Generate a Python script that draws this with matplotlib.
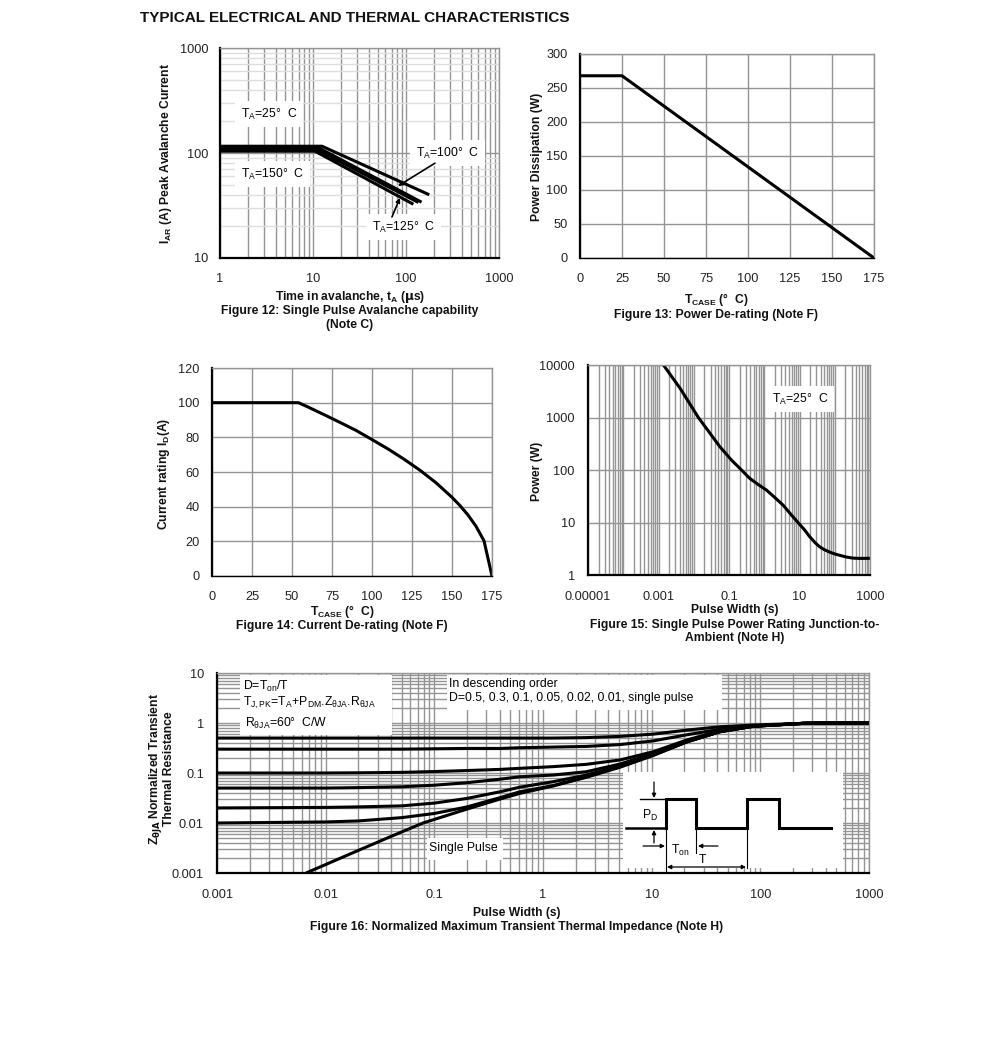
import matplotlib
matplotlib.use("Agg")
import matplotlib.pyplot as plt
from matplotlib.ticker import LogLocator, NullFormatter

plt.rcParams['font.family'] = ['Liberation Sans', 'DejaVu Sans']
plt.rcParams['mathtext.default'] = 'regular'
plt.rcParams['font.size'] = 9

W, H = 991, 1040

# Figure 12 data
av_t25 = [1, 12.5, 178]
av_i25 = [116, 116, 40]
av_t100 = [1, 11.5, 147]
av_i100 = [112, 112, 34]
av_t125 = [1, 11, 136]
av_i125 = [108, 108, 33.8]
av_t150 = [1, 10.5, 120]
av_i150 = [104, 104, 32.5]

# Figure 13 data
pd_case = [0, 25, 175]
pd_watts = [268, 268, 0]

# Figure 14 data
id_case = [0, 54, 60, 70, 80, 90, 100, 110, 120, 130, 140, 150, 155, 160, 165, 170, 175]
id_amps = [100, 100, 97.5, 93.1, 88.6, 84, 78.7, 73.3, 67.4, 61, 53.8, 45.4, 40.6, 35.2, 28.7, 20.3, 0]

# Figure 15 data
sp_width = [0.00138, 0.00237, 0.0041, 0.0078, 0.0135, 0.029, 0.055, 0.117, 0.226, 0.39, 0.67, 1.15,
            1.98, 3.4, 5.9, 9.05, 14, 19.3, 28, 37, 50, 71, 100, 136, 200, 320, 500, 1000]
sp_power = [10000, 6000, 3600, 1807, 1000, 499, 278, 155, 100, 69, 53, 41.6,
            30, 21.5, 13.9, 10, 7.2, 5.4, 4.1, 3.46, 3.05, 2.74, 2.52, 2.38, 2.22, 2.1, 2.07, 2.08]

# Figure 16 data
z_width = [0.001, 0.01, 0.02, 0.05, 0.1, 0.2, 0.4, 0.61, 1.24, 2.5, 5.1, 10.4, 21, 42.6, 86, 250, 400, 1000]
z_d50 = [0.5, 0.5, 0.5, 0.5, 0.5, 0.5, 0.5, 0.5, 0.5, 0.51, 0.54, 0.6, 0.72, 0.84, 0.91, 0.985, 1, 1]
z_d30 = [0.3, 0.3, 0.3, 0.3, 0.305, 0.31, 0.31, 0.32, 0.33, 0.34, 0.37, 0.44, 0.58, 0.75, 0.87, 0.985, 1, 1]
z_d10 = [0.1, 0.1, 0.101, 0.103, 0.107, 0.112, 0.118, 0.124, 0.134, 0.149, 0.182, 0.267, 0.457, 0.70, 0.87, 0.985, 1, 1]
z_d05 = [0.05, 0.05, 0.051, 0.053, 0.057, 0.064, 0.075, 0.084, 0.091, 0.106, 0.151, 0.247, 0.436, 0.68, 0.86, 0.985, 1, 1]
z_d02 = [0.02, 0.0205, 0.021, 0.022, 0.025, 0.031, 0.042, 0.052, 0.067, 0.091, 0.138, 0.236, 0.42, 0.67, 0.86, 0.985, 1, 1]
z_d01 = [0.01, 0.0105, 0.011, 0.0128, 0.0155, 0.021, 0.032, 0.042, 0.056, 0.084, 0.134, 0.23, 0.42, 0.67, 0.86, 0.985, 1, 1]
z_single_w = [0.0066, 0.019, 0.04, 0.0787, 0.2, 0.4, 0.61, 1.24, 2.5, 5.1, 10.4, 21, 42.6, 86, 250, 400, 1000]
z_single = [0.001, 0.0027, 0.0054, 0.01, 0.019, 0.03, 0.039, 0.055, 0.082, 0.13, 0.225, 0.417, 0.67, 0.86, 0.985, 1, 1]

GRID = '#949494'
TICK_SIZE = 9.2
NOTE_SIZE = 8.8
BOLD_SIZE = 8.7
fig = plt.figure(figsize=(W / 100, H / 100), dpi=100)


def make_axes(left, right, top, bottom, bottom_lw=1.6):
    ax = fig.add_axes([left / W, 1 - bottom / H, (right - left) / W, (bottom - top) / H])
    ax.set_axisbelow(True)
    ax.tick_params(which='both', length=0, labelsize=TICK_SIZE, colors='#222222')
    for s in ('top', 'right'):
        ax.spines[s].set_color(GRID)
        ax.spines[s].set_linewidth(1)
    ax.spines['left'].set_color('black')
    ax.spines['left'].set_linewidth(1.6)
    ax.spines['bottom'].set_color('black')
    ax.spines['bottom'].set_linewidth(bottom_lw)
    return ax


def px_text(x, y, s, **kw):
    kw.setdefault('ha', 'center')
    kw.setdefault('va', 'center')
    kw.setdefault('fontsize', BOLD_SIZE)
    kw.setdefault('color', '#111111')
    kw.setdefault('fontweight', 'bold')
    fig.text(x / W, 1 - (y + 1) / H, s, **kw)


LINE = dict(color='black', lw=2.2, solid_joinstyle='round', solid_capstyle='butt')
box = dict(facecolor='white', edgecolor='none', pad=4)

px_text(140, 17, 'TYPICAL ELECTRICAL AND THERMAL CHARACTERISTICS', ha='left', fontsize=10.95)

# =============================
# Figure 12
# =============================
ax = make_axes(220, 499, 48, 258)
ax.set_xscale('log')
ax.set_yscale('log')
ax.set_xlim(1, 1000)
ax.set_ylim(10, 1000)
ax.set_xticks([1, 10, 100, 1000], ['1', '10', '100', '1000'])
ax.set_yticks([10, 100, 1000], ['10', '100', '1000'])
ax.grid(True, which='major', color=GRID, lw=1)
ax.xaxis.grid(True, which='minor', color=GRID, lw=1)
ax.yaxis.grid(True, which='minor', color='#dddddd', lw=1)
ax.tick_params(axis='x', pad=11)
ax.tick_params(axis='y', pad=8.6)
ax.plot(av_t25, av_i25, **LINE)
ax.plot(av_t100, av_i100, **LINE)
ax.plot(av_t125, av_i125, **LINE)
ax.plot(av_t150, av_i150, **LINE)
ax.text(1.68, 234, 'T$_{A}$=25°  C', ha='left', va='center', fontsize=NOTE_SIZE, bbox=box)
ax.text(1.68, 63, 'T$_{A}$=150°  C', ha='left', va='center', fontsize=NOTE_SIZE, bbox=box)
ax.text(128, 100, 'T$_{A}$=100°  C', ha='left', va='center', fontsize=NOTE_SIZE, bbox=box)
ax.text(43, 19.7, 'T$_{A}$=125°  C', ha='left', va='center', fontsize=NOTE_SIZE, bbox=box)
ax.annotate('', xy=(82, 48.5), xytext=(205, 80),
            arrowprops=dict(arrowstyle='-|>', color='black', lw=1.2, mutation_scale=6, shrinkA=0, shrinkB=0))
ax.annotate('', xy=(86, 37.3), xytext=(70.6, 24.6),
            arrowprops=dict(arrowstyle='-|>', color='black', lw=1.2, mutation_scale=6, shrinkA=0, shrinkB=0))
px_text(166, 153, 'I$_{AR}$ (A) Peak Avalanche Current', rotation=90)
px_text(350, 296, 'Time in avalanche, t$_{A}$ ($\\mathbf{\\mu}$s)')
px_text(350, 310, 'Figure 12: Single Pulse Avalanche capability')
px_text(350, 324, '(Note C)')

# =============================
# Figure 13
# =============================
ax = make_axes(580, 874, 54, 258, bottom_lw=1)
ax.set_xlim(0, 175)
ax.set_ylim(0, 300)
ax.set_xticks(range(0, 176, 25))
ax.set_yticks(range(0, 301, 50))
ax.grid(True, color=GRID, lw=1)
ax.tick_params(axis='x', pad=11)
ax.tick_params(axis='y', pad=9)
ax.plot(pd_case, pd_watts, **LINE)
px_text(537, 156, 'Power Dissipation (W)', rotation=90)
px_text(716, 299, 'T$_{CASE}$ (°  C)')
px_text(716, 314, 'Figure 13: Power De-rating (Note F)')

# =============================
# Figure 14
# =============================
ax = make_axes(212, 492, 368, 576, bottom_lw=1)
ax.set_xlim(0, 175)
ax.set_ylim(0, 120)
ax.set_xticks(range(0, 176, 25))
ax.set_yticks(range(0, 121, 20))
ax.grid(True, color=GRID, lw=1)
ax.tick_params(axis='x', pad=11)
ax.tick_params(axis='y', pad=9)
ax.plot(id_case, id_amps, **LINE)
px_text(164, 473, 'Current rating I$_{D}$(A)', rotation=90)
px_text(342, 611, 'T$_{CASE}$ (°  C)')
px_text(342, 625, 'Figure 14: Current De-rating (Note F)')

# =============================
# Figure 15
# =============================
ax = make_axes(588, 870, 365, 575)
ax.set_xscale('log')
ax.set_yscale('log')
ax.set_xlim(1e-5, 1000)
ax.set_ylim(1, 10000)
ax.set_xticks([1e-5, 1e-3, 0.1, 10, 1000], ['0.00001', '0.001', '0.1', '10', '1000'])
ax.set_yticks([1, 10, 100, 1000, 10000], ['1', '10', '100', '1000', '10000'])
ax.xaxis.set_minor_locator(LogLocator(base=10, subs=range(1, 10), numticks=20))
ax.xaxis.set_minor_formatter(NullFormatter())
ax.yaxis.set_minor_formatter(NullFormatter())
ax.xaxis.grid(True, which='both', color=GRID, lw=1)
ax.yaxis.grid(True, which='major', color=GRID, lw=1)
ax.tick_params(axis='x', pad=11.5)
ax.tick_params(axis='y', pad=9.5)
ax.plot(sp_width, sp_power, **LINE)
ax.text(1.66, 2240, 'T$_{A}$=25°  C', ha='left', va='center', fontsize=NOTE_SIZE, bbox=box)
px_text(537, 470, 'Power (W)', rotation=90)
px_text(735, 609, 'Pulse Width (s)')
px_text(735, 624, 'Figure 15: Single Pulse Power Rating Junction-to-')
px_text(735, 637, 'Ambient (Note H)')

# =============================
# Figure 16
# =============================
ax = make_axes(217, 869, 673, 873)
ax.set_xscale('log')
ax.set_yscale('log')
ax.set_xlim(0.001, 1000)
ax.set_ylim(0.001, 10)
ax.set_xticks([0.001, 0.01, 0.1, 1, 10, 100, 1000], ['0.001', '0.01', '0.1', '1', '10', '100', '1000'])
ax.set_yticks([0.001, 0.01, 0.1, 1, 10], ['0.001', '0.01', '0.1', '1', '10'])
ax.xaxis.set_minor_locator(LogLocator(base=10, subs=range(1, 10), numticks=20))
ax.yaxis.set_minor_locator(LogLocator(base=10, subs=range(1, 10), numticks=20))
ax.xaxis.set_minor_formatter(NullFormatter())
ax.yaxis.set_minor_formatter(NullFormatter())
ax.grid(True, which='both', color=GRID, lw=1)
ax.tick_params(axis='x', pad=11.5)
ax.tick_params(axis='y', pad=9.5)
for series in (z_d50, z_d30, z_d10, z_d05, z_d02, z_d01):
    ax.plot(z_width, series, zorder=5, **LINE)
ax.plot(z_single_w, z_single, zorder=5, **LINE)
px_text(161, 768, 'Z$_{\\mathbf{\\theta JA}}$ Normalized Transient\nThermal Resistance', rotation=90, linespacing=0.95)
px_text(517, 912, 'Pulse Width (s)')
px_text(517, 926, 'Figure 16: Normalized Maximum Transient Thermal Impedance (Note H)')

# overlay in pixel coordinates for the note boxes and the pulse sketch
ov = fig.add_axes([0, 0, 1, 1], zorder=10)
ov.set_xlim(0, W)
ov.set_ylim(H, 0)
ov.axis('off')


def white_box(x0, y0, x1, y1):
    ov.fill([x0, x1, x1, x0], [y0, y0, y1, y1], color='white', lw=0)


white_box(240, 675, 392, 735)
white_box(447, 675, 722, 710)
white_box(427, 838, 503, 860)
white_box(623, 772, 843, 868)

ov.text(243, 686, 'D=T$_{on}$/T', va='center', fontsize=NOTE_SIZE)
ov.text(243, 703, 'T$_{J,PK}$=T$_{A}$+P$_{DM}$.Z$_{θJA}$.R$_{θJA}$', va='center', fontsize=NOTE_SIZE)
ov.text(245, 723, 'R$_{θJA}$=60°  C/W', va='center', fontsize=NOTE_SIZE)
ov.text(449, 684, 'In descending order', va='center', fontsize=NOTE_SIZE)
ov.text(449, 698, 'D=0.5, 0.3, 0.1, 0.05, 0.02, 0.01, single pulse', va='center', fontsize=NOTE_SIZE)
ov.text(429, 848, 'Single Pulse', va='center', fontsize=NOTE_SIZE)

pulse_x = [666, 666, 696, 696, 747, 747, 779, 779, 831]
pulse_y = [828, 799, 799, 828, 828, 799, 799, 828, 828]
ov.plot(pulse_x, pulse_y, color='black', lw=2.2, solid_joinstyle='miter')
ov.plot([626, 666], [828, 828], color='black', lw=1.8)
ov.plot([640, 666], [799, 799], color='black', lw=1)
ov.plot([666, 666], [828, 873], color='black', lw=0.8)
ov.plot([696, 696], [828, 853], color='black', lw=0.8)
ov.plot([747, 747], [828, 868], color='black', lw=0.8)


def arrow(x0, y0, x1, y1, style='-|>'):
    ov.annotate('', xy=(x1, y1), xytext=(x0, y0),
                arrowprops=dict(arrowstyle=style, color='black', lw=0.9, mutation_scale=6, shrinkA=0, shrinkB=0))


arrow(654, 782, 654, 798)
arrow(654, 843, 654, 830)
arrow(643, 846, 665, 846)
arrow(718, 846, 698, 846)
arrow(667, 867, 746, 867, '<|-|>')
ov.text(650, 815, 'P$_{D}$', ha='center', va='center', fontsize=NOTE_SIZE)
ov.text(680, 850, 'T$_{on}$', ha='center', va='center', fontsize=NOTE_SIZE)
ov.text(702, 860, 'T', ha='center', va='center', fontsize=NOTE_SIZE)

fig.savefig('out.png', dpi=100)
